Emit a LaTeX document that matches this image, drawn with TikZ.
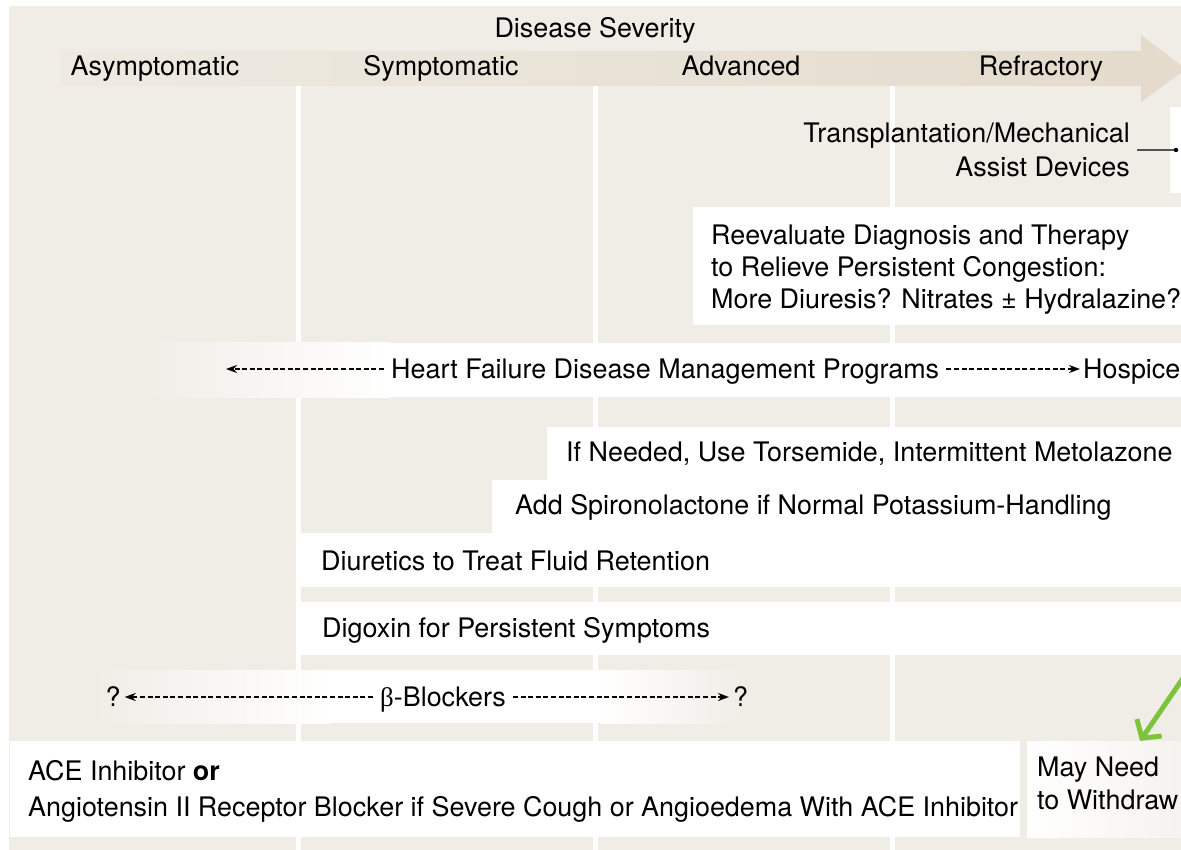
\documentclass[tikz,border=0pt]{standalone}
\usepackage{fontspec}
\setmainfont{TeX Gyre Heros}
\newfontfamily\greekfont{Liberation Serif}
\usetikzlibrary{arrows.meta}

\definecolor{bgbeige}{RGB}{240,237,231}
\definecolor{bandlight}{RGB}{238,234,226}
\definecolor{bandtan}{RGB}{228,219,204}
\definecolor{withdrawgreen}{RGB}{125,195,60}

\tikzset{
    lbl/.style={inner xsep=0pt, inner ysep=0pt, text height=19pt, text depth=0pt},
    block/.style={inner sep=0pt, align=left},
    fadebox/.style={inner sep=0pt, left color=white, right color=bgbeige!70!white},
    dotarrow/.style={-{Stealth[length=11pt,width=8pt]}, line width=2.6pt, dash pattern=on 5pt off 2.6pt},
    greenarrow/.style={draw=withdrawgreen, line width=5pt, -{Straight Barb[length=13pt,width=30pt]}},
}

\begin{document}
\begin{tikzpicture}[x=1pt, y=-1pt, every node/.style={font=\fontsize{26.9}{32}\selectfont}]
    \useasboundingbox (0,0) rectangle (1181,850);
    \clip (0,0) rectangle (1181,850);

    % background and severity arrow
    \fill[bgbeige] (9,6) rectangle (1181,850);
    \shade[left color=bandlight, right color=bandtan] (60,52) rectangle (1141,86);
    \fill[bandtan] (1141,35) -- (1186,69) -- (1141,102) -- cycle;

    \foreach \x in {298,595,892} {
        \fill[white] (\x-2.5,86) rectangle (\x+2.5,850);
    }

    \node[lbl] (severity) at (595,28) {Disease Severity};
    \foreach \x/\name/\txt in {155/asym/Asymptomatic, 441/sympt/Symptomatic, 741/adv/Advanced, 1041/refr/Refractory} {
        \node[lbl] (\name) at (\x,66) {\txt};
    }

    % white boxes
    \fill[white] (1170,107) rectangle (1181,193);
    \fill[white] (693,207) rectangle (1181,325);
    \shade[left color=bgbeige, right color=white] (140,343) rectangle (390,397);
    \fill[white] (389,343) rectangle (1181,397);
    \fill[white] (547,427) rectangle (1181,481);
    \fill[white] (492,480) rectangle (1181,533);
    \fill[white] (301,533) rectangle (1181,587);
    \fill[white] (301,602) rectangle (1181,655);
    \shade[left color=bgbeige, right color=white] (95,670) rectangle (330,723);
    \fill[white] (329,670) rectangle (601,723);
    \shade[left color=white, right color=bgbeige] (600,670) rectangle (742,723);
    \fill[white] (10,741) rectangle (1020,837);
    \node[fadebox, anchor=north west, minimum width=160pt, minimum height=96pt] (withdrawbox) at (1027,741) {};

    % labels
    \node[block, anchor=north east, align=right, inner sep=7pt, font=\fontsize{26.9}{34}\selectfont] (transplant) at (1137,116)
        {Transplantation/Mechanical\\Assist Devices};
    \coordinate (transdot) at (1176,150);
    \draw[line width=1.2pt] (transplant) -- (transdot);
    \fill (transdot) circle (2.2);

    \node[block, anchor=north west] (reeval) at (711,225)
        {Reevaluate Diagnosis and Therapy\\to Relieve Persistent Congestion:\\More Diuresis? Nitrates ± Hydralazine?};

    \node[lbl, anchor=west, inner xsep=7pt] (hfdm) at (384,369) {Heart Failure Disease Management Programs};
    \node[lbl, anchor=west, inner xsep=3pt] (hospice) at (1080,369) {Hospice};
    \coordinate (hfend) at (226,369);
    \draw[dotarrow] (hfdm) -- (hfend);
    \draw[dotarrow] (hfdm) -- (hospice);

    \node[lbl, anchor=west] (ifneeded) at (566,452) {If Needed, Use Torsemide, Intermittent Metolazone};
    \node[lbl, anchor=west] (spiro) at (515,505) {Add Spironolactone if Normal Potassium-Handling};
    \node[lbl, anchor=west] (diuretics) at (321,561) {Diuretics to Treat Fluid Retention};
    \node[lbl, anchor=west] (digoxin) at (322,628) {Digoxin for Persistent Symptoms};

    \node[lbl, inner xsep=4pt] (qleft) at (113,697) {?};
    \node[lbl, anchor=west, inner xsep=7pt] (betab) at (373,697) {{\greekfont β}-Blockers};
    \node[lbl, anchor=west, inner xsep=4pt] (qright) at (729,697) {?};
    \draw[dotarrow] (betab) -- (qleft);
    \draw[dotarrow] (betab) -- (qright);

    \node[block, anchor=north west, font=\fontsize{26.9}{36}\selectfont] (ace) at (28,760)
        {ACE Inhibitor \textbf{or}\\Angiotensin II Receptor Blocker if Severe Cough or Angioedema With ACE Inhibitor};
    \node[block, anchor=north west, font=\fontsize{26.9}{33}\selectfont] (withdraw) at (1037,757) {May Need\\to Withdraw};

    \coordinate (greenstart) at (1192,665);
    \draw[greenarrow] (greenstart) -- (withdrawbox);
\end{tikzpicture}
\end{document}
